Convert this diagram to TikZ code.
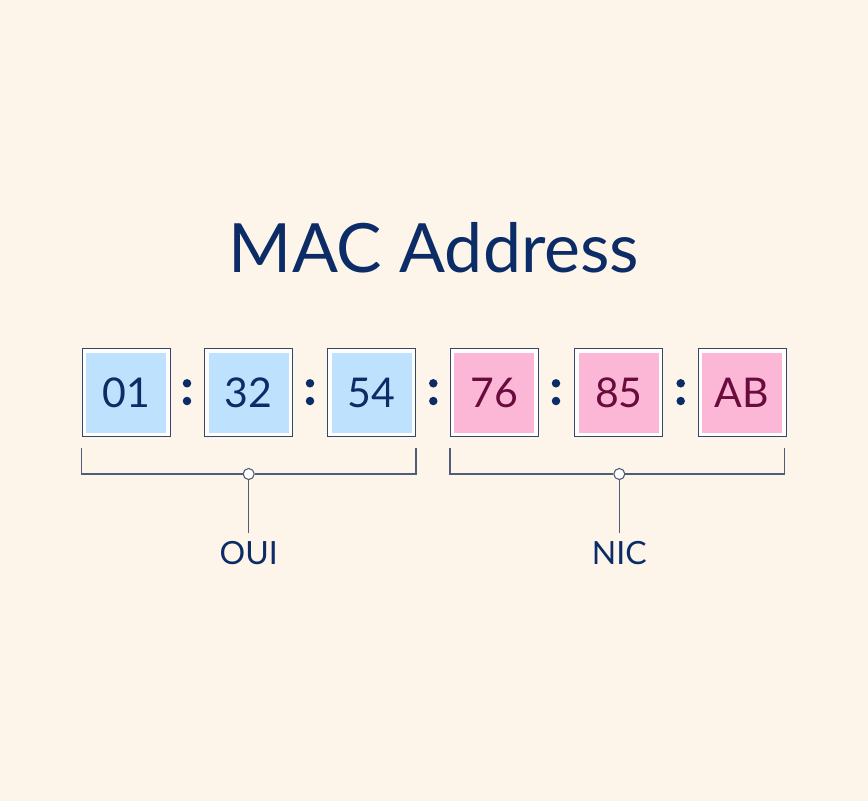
\documentclass[tikz,border=0pt]{standalone}
\usepackage{fontspec}
\setmainfont{Lato}
\definecolor{bg}{RGB}{254,245,234}
\definecolor{navy}{RGB}{11,44,102}
\definecolor{maroon}{RGB}{106,11,61}
\definecolor{bluefill}{RGB}{190,225,253}
\definecolor{pinkfill}{RGB}{253,183,214}
\definecolor{edge}{RGB}{52,70,105}
\definecolor{brk}{RGB}{80,92,120}
\tikzset{
  outerbox/.style={draw=edge,line width=1pt,fill=white,minimum size=88pt,inner sep=0pt},
  bluebox/.style={fill=bluefill,minimum size=80pt,inner sep=0pt,text=navy,font=\fontsize{41}{41}\selectfont},
  pinkbox/.style={fill=pinkfill,minimum size=80pt,inner sep=0pt,text=maroon,font=\fontsize{41}{41}\selectfont},
  dotc/.style={circle,fill=navy,minimum size=8.5pt,inner sep=0pt},
  brace/.style={draw=brk,line width=1.1pt},
  knob/.style={circle,draw=brk,line width=1.1pt,fill=white,minimum size=11pt,inner sep=0pt},
  lbl/.style={text=navy,font=\fontsize{32}{32}\selectfont,inner sep=0pt,anchor=north},
}
\begin{document}
\begin{tikzpicture}[x=1pt,y=-1pt]
\fill[bg] (0,0) rectangle (868,801);
\useasboundingbox (0,0) rectangle (868,801);
\node[text=navy,font=\fontsize{68}{68}\selectfont,anchor=base] (title) at (434,272) {MAC Address};
% boxes
\node[outerbox] (b1) at (126,392.5) {};
\node[bluebox] (t1) at (b1) {01};
\node[outerbox] (b2) at (248.7,392.5) {};
\node[bluebox] (t2) at (b2) {32};
\node[outerbox] (b3) at (371.6,392.5) {};
\node[bluebox] (t3) at (b3) {54};
\node[outerbox] (b4) at (494.2,392.5) {};
\node[pinkbox] (t4) at (b4) {76};
\node[outerbox] (b5) at (618.8,392.5) {};
\node[pinkbox] (t5) at (b5) {85};
\node[outerbox] (b6) at (742,392.5) {};
\node[pinkbox] (t6) at (b6) {AB};
% colons
\foreach \n/\x in {1/187,2/310,3/433.3,4/556,5/680.7}{
  \node[dotc] (c\n a) at (\x,383.3) {};
  \node[dotc] (c\n b) at (\x,401) {};
}
% brackets
\coordinate (ouiL) at (81.5,448);
\coordinate (ouiR) at (416,448);
\node[knob] (k1) at (248.7,474) {};
\draw[brace] (ouiL) |- (k1.west);
\draw[brace] (ouiR) |- (k1.east);
\node[lbl] (oui) at (248.7,541) {OUI};
\coordinate (s1) at (248.7,533);
\draw[brace] (k1.south) -- (s1);
\coordinate (nicL) at (450,448);
\coordinate (nicR) at (784.3,448);
\node[knob] (k2) at (619.3,474) {};
\draw[brace] (nicL) |- (k2.west);
\draw[brace] (nicR) |- (k2.east);
\node[lbl] (nic) at (619.3,541) {NIC};
\coordinate (s2) at (619.3,533);
\draw[brace] (k2.south) -- (s2);
\end{tikzpicture}
\end{document}
